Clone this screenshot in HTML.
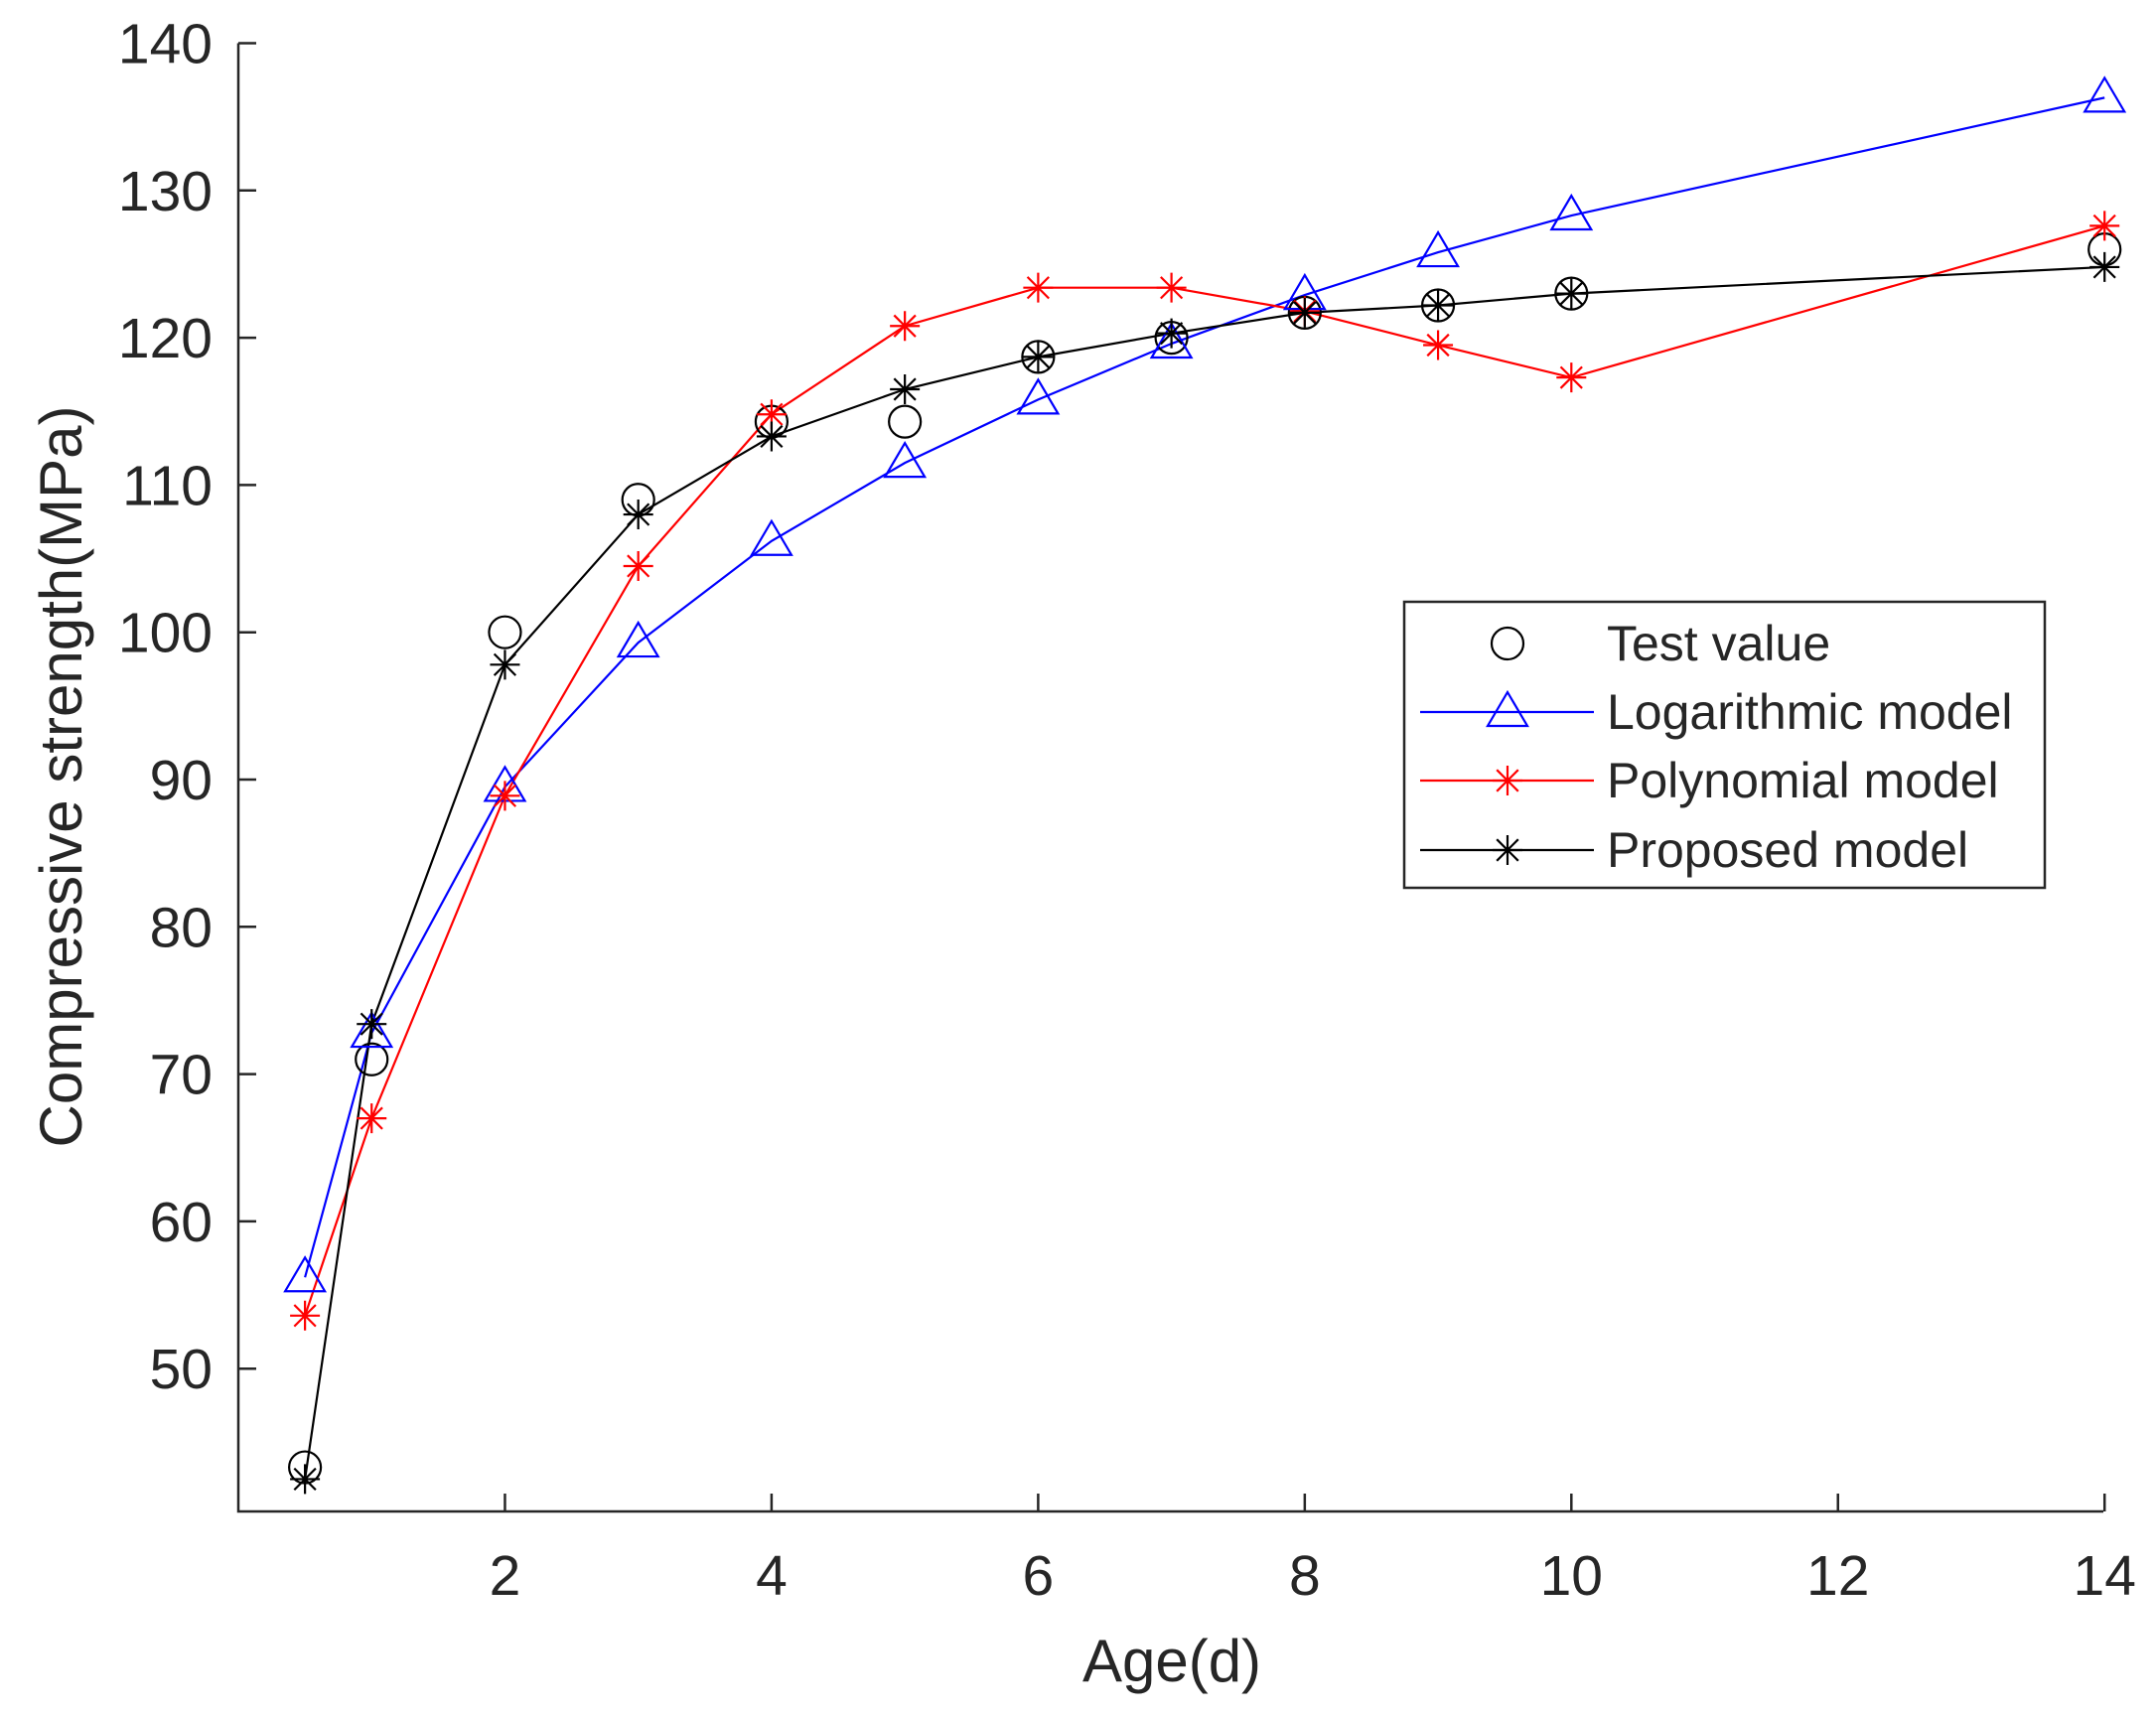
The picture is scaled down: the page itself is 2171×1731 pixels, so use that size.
<!DOCTYPE html>
<html><head><meta charset="utf-8"><style>
html,body{margin:0;padding:0;background:#fff}
svg{display:block}
text{font-family:"Liberation Sans",Arial,sans-serif;fill:#262626}
</style></head><body>
<svg id="s" width="2171" height="1731" viewBox="0 0 2171 1731" xmlns="http://www.w3.org/2000/svg">
<rect width="2171" height="1731" fill="#fff"/>
<g id="axes" stroke="#262626" stroke-width="2.5" fill="none">
<path d="M240,43.5 V1522 H2118"/>
</g>
<g id="ticks" stroke="#262626" stroke-width="2.5"></g>
<g id="labels" font-size="57"></g>
<g id="series"></g>
<text x="1180" y="1693" font-size="60" text-anchor="middle">Age(d)</text>
<text transform="translate(82,782) rotate(-90)" font-size="60" text-anchor="middle">Compressive strength(MPa)</text>
<g id="legend">
<rect x="1414" y="606" width="645" height="288" fill="#fff" stroke="#262626" stroke-width="2.5"/>
</g>
</svg>
<script>
const NS="http://www.w3.org/2000/svg";
const X=x=>240+134.23*x, Y=v=>43.5+(140-v)*14.83;
function el(p,t,a,txt){const e=document.createElementNS(NS,t);for(const k in a)e.setAttribute(k,a[k]);if(txt)e.textContent=txt;p.appendChild(e);return e;}
const tk=document.getElementById('ticks'),lb=document.getElementById('labels');
for(let v=50;v<=140;v+=10){el(tk,'line',{x1:240,x2:258,y1:Y(v),y2:Y(v)});el(lb,'text',{x:214,y:Y(v)+20,'text-anchor':'end'},String(v));}
for(let x=2;x<=14;x+=2){el(tk,'line',{x1:X(x),x2:X(x),y1:1522,y2:1504});el(lb,'text',{x:X(x),y:1606,'text-anchor':'middle'},String(x));}
const xs=[0.5,1,2,3,4,5,6,7,8,9,10,14];
const test=[43.3,71,100,109,114.3,114.3,118.7,120,121.7,122.2,123,126];
const logm=[56.2,72.8,89.5,99.3,106.2,111.5,115.8,119.6,122.9,125.8,128.3,136.3];
const poly=[53.6,67,88.9,104.5,114.8,120.8,123.4,123.4,121.8,119.5,117.3,127.6];
const prop=[42.5,73.4,97.8,108,113.3,116.5,118.7,120.3,121.7,122.2,123,124.8];
const S=document.getElementById('series');
function line(vals,c){el(S,'polyline',{points:xs.map((x,i)=>X(x)+','+Y(vals[i])).join(' '),fill:'none',stroke:c,'stroke-width':2.2});}
function circ(g,x,y){el(g,'circle',{cx:x,cy:y,r:16,fill:'none',stroke:'#000','stroke-width':2.2});}
function tri(g,x,y,c){el(g,'polygon',{points:`${x},${y-20} ${x+20},${y+14} ${x-20},${y+14}`,fill:'none',stroke:c,'stroke-width':2.2});}
function star(g,x,y,c){const r=15,d=r*0.72;el(g,'path',{d:`M${x-r},${y}H${x+r}M${x},${y-r}V${y+r}M${x-d},${y-d}L${x+d},${y+d}M${x-d},${y+d}L${x+d},${y-d}`,stroke:c,'stroke-width':2.2,fill:'none'});}
line(logm,'#0000ff');line(poly,'#ff0000');line(prop,'#000');
xs.forEach((x,i)=>{circ(S,X(x),Y(test[i]));tri(S,X(x),Y(logm[i]),'#0000ff');star(S,X(x),Y(poly[i]),'#ff0000');star(S,X(x),Y(prop[i]),'#000');});
const L=document.getElementById('legend');
const ys=[648,717,786,856];
circ(L,1518,ys[0]);
el(L,'line',{x1:1430,x2:1605,y1:ys[1],y2:ys[1],stroke:'#0000ff','stroke-width':2.2});tri(L,1518,ys[1],'#0000ff');
el(L,'line',{x1:1430,x2:1605,y1:ys[2],y2:ys[2],stroke:'#ff0000','stroke-width':2.2});star(L,1518,ys[2],'#ff0000');
el(L,'line',{x1:1430,x2:1605,y1:ys[3],y2:ys[3],stroke:'#000','stroke-width':2.2});star(L,1518,ys[3],'#000');
['Test value','Logarithmic model','Polynomial model','Proposed model'].forEach((t,i)=>el(L,'text',{x:1618,y:ys[i]+17,'font-size':50},t));
</script>
</body></html>
